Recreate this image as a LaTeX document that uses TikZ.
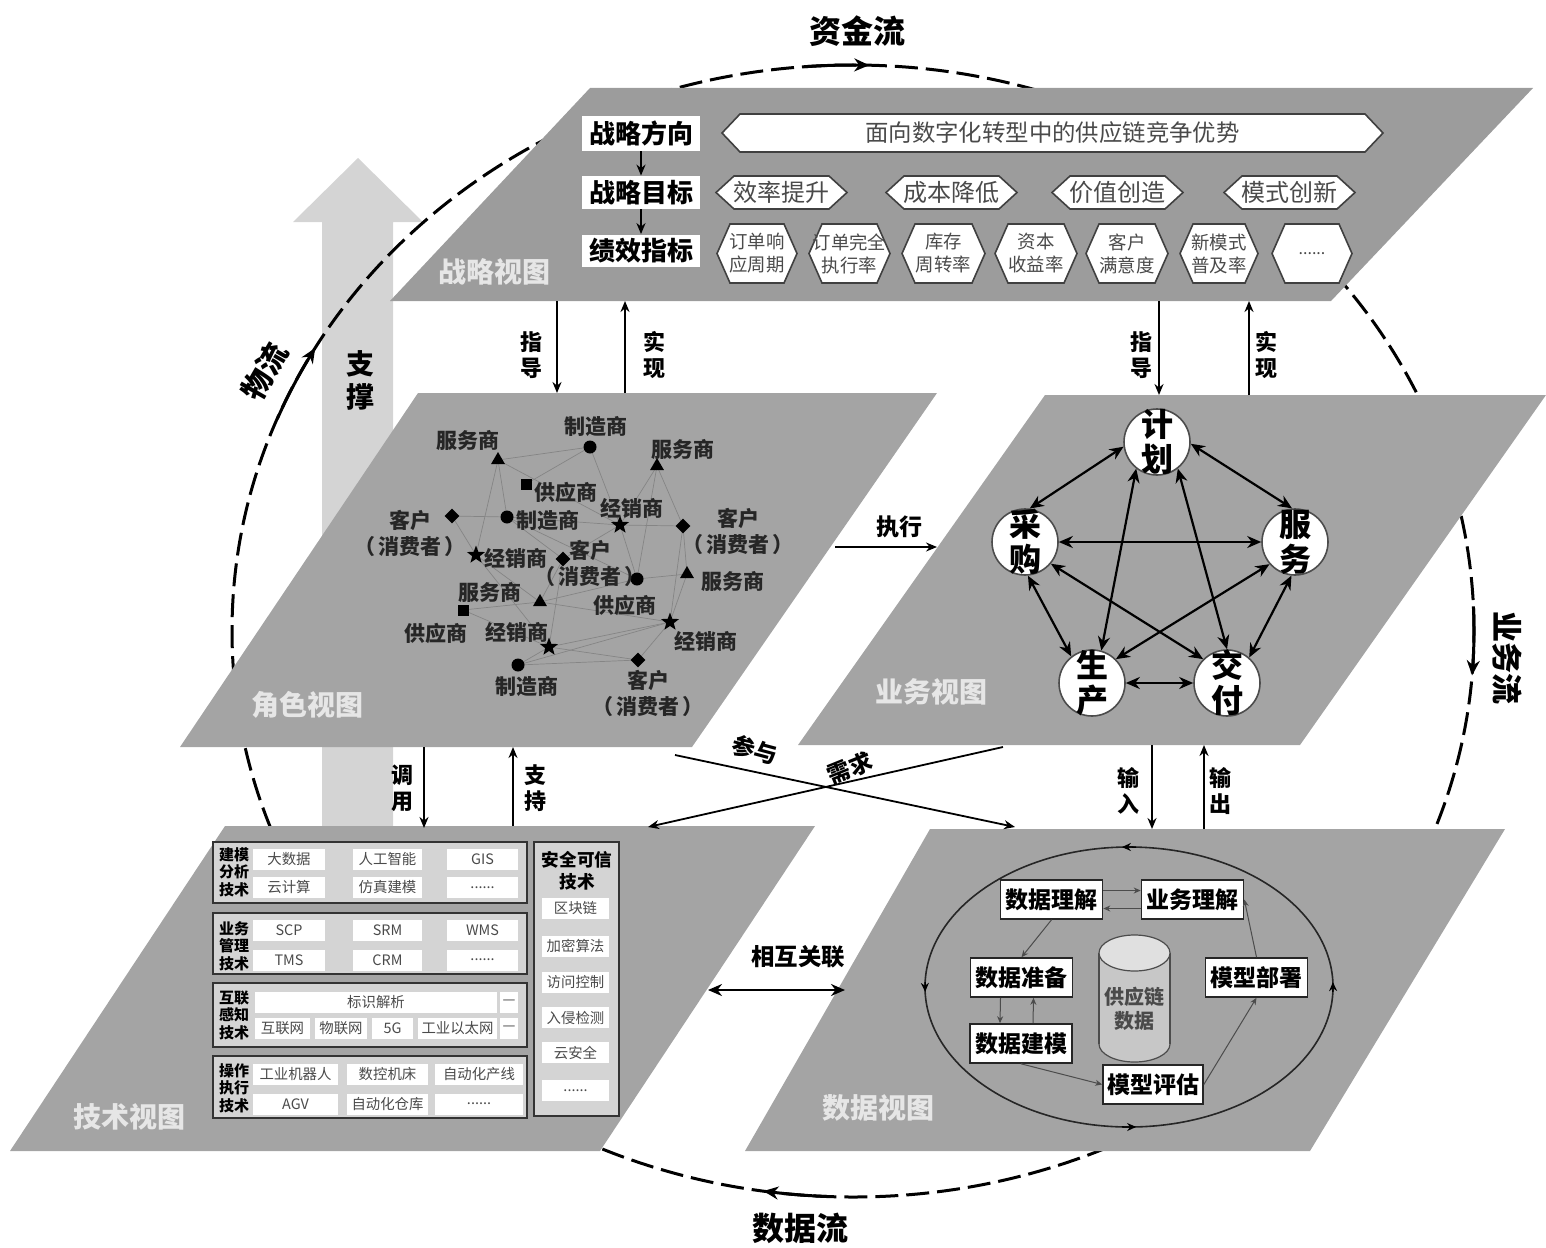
\documentclass[tikz,border=0pt]{standalone}
\usepackage{fontspec}
\setmainfont{Noto Sans CJK SC}
\usetikzlibrary{arrows.meta,shapes.geometric,calc}
\definecolor{planeA}{HTML}{9C9C9C}
\definecolor{planeB}{HTML}{A4A4A4}
\definecolor{blockg}{HTML}{D4D4D4}
\definecolor{txtg}{HTML}{4A4A4A}
\definecolor{viewt}{HTML}{E6E6E6}
\newcommand{\moredots}{{.}{.}{.}{.}{.}{.}}
\tikzset{
  bf/.style 2 args={font=\bfseries\fontsize{#1}{#2}\selectfont,align=center,inner sep=0pt},
  rg/.style 2 args={font=\fontsize{#1}{#2}\selectfont,align=center,inner sep=0pt},
  planeshape/.style={fill=#1,draw=none},
  viewlabel/.style={bf={14}{16},text=viewt},
  flowdash/.style={line width=1.5pt,dash pattern=on 11.5pt off 4pt},
  flowarrow/.style={line width=1.5pt,-{Stealth[length=7.5pt,width=6.5pt]}},
  conn/.style={line width=0.9pt,-{Stealth[length=5.5pt,width=4.5pt]}},
  biconn/.style={line width=1.1pt,{Stealth[length=7pt,width=6pt]}-{Stealth[length=7pt,width=6pt]}},
  sideword/.style={bf={11}{13}},
  hexline/.style={draw=black!75,fill=white,line width=0.8pt},
  sideband/.style={fill=white,minimum width=59pt,inner sep=0pt},
  rolelink/.style={draw=black!48,line width=0.35pt},
  rolesym/.style={fill=black,inner sep=0pt,draw=none},
  roletext/.style={bf={10.5}{13},text=black!85},
  bizcircle/.style={circle,draw=black!70,fill=white,line width=0.8pt,minimum size=33pt,inner sep=0pt},
  biztext/.style={bf={16}{17.5}},
  tblock/.style={draw=black!80,fill=blockg,line width=1.2pt},
  wbox/.style={fill=white,rg={7.2}{8},text=txtg,minimum height=10.5pt},
  dbox/.style={draw=black!85,fill=white,line width=0.8pt,minimum width=51pt,minimum height=19.5pt,bf={11.5}{13}},
  thin link/.style={line width=0.5pt,draw=black!70,-{Stealth[length=3.5pt,width=3pt]}},
  ringmark/.style={line width=0.7pt,-{Stealth[length=4.5pt,width=4pt]}},
}
% name x1 x2 y1 y2 tip text fontstyle
\newcommand{\hexa}[8]{%
  \draw[hexline] (#2,{(#4+#5)/2}) -- ({#2+#6},#4) -- ({#3-#6},#4) -- (#3,{(#4+#5)/2}) -- ({#3-#6},#5) -- ({#2+#6},#5) -- cycle;
  \node[rg=#8,text=txtg] (#1) at ({(#2+#3)/2},{(#4+#5)/2}) {#7};
}
\begin{document}
\begin{tikzpicture}[x=0.5pt,y=-0.5pt]
\useasboundingbox (0,0) rectangle (1546,1247);

% large support arrow behind everything
\fill[fill=black!17] (358,158) -- (423,222) -- (393,222) -- (393,826) -- (322,826) -- (322,222) -- (293,222) -- cycle;
\node[bf={14}{16.5}] (support) at (360,380) {支\\撑};

% dashed ring with the four flows
\draw[flowdash] (853,631) ellipse [x radius=310.5pt,y radius=283pt];
\draw[flowarrow] plot[smooth,domain=202:210,samples=8] ({853+621*cos(\x)},{631+566*sin(\x)});
\draw[flowarrow] plot[smooth,domain=-2.5:4.5,samples=8] ({853+621*cos(\x)},{631+566*sin(\x)});
\draw[flowarrow] plot[smooth,domain=265.5:271.5,samples=8] ({853+621*cos(\x)},{631+566*sin(\x)});
\draw[flowarrow] plot[smooth,domain=92.4:98.3,samples=8] ({853+621*cos(\x)},{631+566*sin(\x)});
\node[bf={16}{18}] (zj) at (857,31) {资金流};
\node[bf={16}{18}] (sj) at (800,1228) {数据流};
\node[bf={15}{17},rotate=60] (wl) at (265,372) {物流};
\node[bf={15.5}{17},rotate=-90] (yw) at (1507,658) {业务流};

% the five planes
\fill[planeshape=planeA] (590,88) -- (1533,88) -- (1331,301) -- (390,301) -- cycle;
\fill[planeshape=planeB] (418,393) -- (937,393) -- (692,747) -- (180,747) -- cycle;
\fill[planeshape=planeB] (1045,395) -- (1546,395) -- (1300,745) -- (798,745) -- cycle;
\fill[planeshape=planeB] (225,826) -- (815,826) -- (600,1151) -- (10,1151) -- cycle;
\fill[planeshape=planeB] (930,829) -- (1505,829) -- (1310,1151) -- (745,1151) -- cycle;
\node[viewlabel] (v1) at (494,272) {战略视图};
\node[viewlabel] (v2) at (307,705) {角色视图};
\node[viewlabel] (v3) at (931,692) {业务视图};
\node[viewlabel] (v4) at (129,1117) {技术视图};
\node[viewlabel] (v5) at (878,1108) {数据视图};

% strategy plane
\node[sideband,minimum height=17.5pt,bf={13}{15}] (s1) at (641,133.5) {战略方向};
\node[sideband,minimum height=16.5pt,bf={13}{15}] (s2) at (641,192.5) {战略目标};
\node[sideband,minimum height=16pt,bf={13}{15}] (s3) at (641,250.5) {绩效指标};
\draw[conn] (s1) -- (s2);
\draw[conn] (s2) -- (s3);
\hexa{dir}{722}{1383}{114}{152}{18}{面向数字化转型中的供应链竞争优势}{{11.7}{14}}
\hexa{g1}{716}{847}{176}{209}{18}{效率提升}{{12}{14}}
\hexa{g2}{886}{1017}{176}{209}{18}{成本降低}{{12}{14}}
\hexa{g3}{1052}{1183}{176}{209}{18}{价值创造}{{12}{14}}
\hexa{g4}{1224}{1355}{176}{209}{18}{模式创新}{{12}{14}}
\hexa{k1}{717}{797}{224}{283}{13}{订单响\\应周期}{{9.2}{11.5}}
\hexa{k2}{809}{890}{224}{283}{13}{订单完全\\执行率}{{9.2}{11.5}}
\hexa{k3}{902}{985}{224}{283}{13}{库存\\周转率}{{9.2}{11.5}}
\hexa{k4}{995}{1077}{224}{283}{13}{资本\\收益率}{{9.2}{11.5}}
\hexa{k5}{1086}{1168}{224}{283}{13}{客户\\满意度}{{9.2}{11.5}}
\hexa{k6}{1180}{1258}{224}{283}{13}{新模式\\普及率}{{9.2}{11.5}}
\hexa{k7}{1272}{1352}{224}{283}{13}{\moredots}{{8}{10}}

% free ends on the plane edges
\coordinate (a1) at (557,301); \coordinate (a2) at (557,393);
\coordinate (b1) at (625,393); \coordinate (b2) at (625,301);
\coordinate (c1) at (1159,301); \coordinate (c2) at (1159,395);
\coordinate (d1) at (1249,395); \coordinate (d2) at (1249,301);
\coordinate (e1) at (835,547); \coordinate (e2) at (937,547);
\coordinate (f1) at (424,747); \coordinate (f2) at (424,828);
\coordinate (g1a) at (513,826); \coordinate (g2a) at (513,747);
\coordinate (h1) at (1152,745); \coordinate (h2) at (1152,829);
\coordinate (i1) at (1204,829); \coordinate (i2) at (1204,745);
\coordinate (j1) at (675,755); \coordinate (j2) at (1015,827);
\coordinate (l1) at (1003,747); \coordinate (l2) at (648,827);
\coordinate (m1) at (708,990); \coordinate (m2) at (845,990);

% role plane
\foreach \n/\x/\y in {A/498/460,B/590/447,C/657/466,D/526/484,E/507/517,F/452/516,G/476/555,H/620/525,I/683/526,J/563/559,K/637/579,L/687/574,M/540/602,N/463/610,O/670/622,P/549/647,Q/518/665,R/638/660}{
  \coordinate (r\n) at (\x,\y);
}
\foreach \a/\b in {A/B,A/E,A/G,A/H,B/D,B/H,C/H,C/I,C/K,F/E,F/G,E/H,E/K,G/M,G/P,H/I,H/J,H/K,I/L,I/O,K/L,J/M,M/K,M/O,N/M,N/P,P/Q,Q/R,Q/O,P/R,O/R,P/O,L/O,J/P,E/J}{
  \draw[rolelink] (r\a) -- (r\b);
}
\foreach \n in {B,E,K,Q}{ \node[rolesym,circle,minimum size=6.5pt] (m\n) at (r\n) {}; }
\foreach \n in {A,C,L,M}{ \node[rolesym,regular polygon,regular polygon sides=3,minimum size=8pt] (m\n) at (r\n) {}; }
\foreach \n in {D,N}{ \node[rolesym,rectangle,minimum size=5.5pt] (m\n) at (r\n) {}; }
\foreach \n in {F,I,J,R}{ \node[rolesym,diamond,minimum size=7.5pt] (m\n) at (r\n) {}; }
\foreach \n in {G,H,O,P}{ \node[rolesym,star,star points=5,star point ratio=2.4,minimum size=9.5pt] (m\n) at (r\n) {}; }
\foreach \k/\x/\y/\t in {1/468/440/服务商,2/596/426/制造商,3/683/449/服务商,4/566/492/供应商,5/548/520/制造商,6/410/533/{客户\\（\kern1.5pt消费者\kern1.5pt）},7/516/558/经销商,8/632/508/经销商,9/738/531/{客户\\（\kern1.5pt消费者\kern1.5pt）},10/590/563/{客户\\（\kern1.5pt消费者\kern1.5pt）},11/733/581/服务商,12/490/592/服务商,13/436/633/供应商,14/625/605/供应商,15/706/641/经销商,16/517/632/经销商,17/527/686/制造商,18/648/693/{客户\\（\kern1.5pt消费者\kern1.5pt）}}{
  \node[roletext] (rt\k) at (\x,\y) {\t};
}

% business plane
\node[bizcircle] (jh) at (1157,442) {};
\node[bizcircle] (fw) at (1295,542) {};
\node[bizcircle] (jf) at (1227,683) {};
\node[bizcircle] (sc) at (1092,683) {};
\node[bizcircle] (cg) at (1025,542) {};
\node[biztext] (jht) at (jh) {计\\划};
\node[biztext] (fwt) at (fw) {服\\务};
\node[biztext] (jft) at (jf) {交\\付};
\node[biztext] (sct) at (sc) {生\\产};
\node[biztext] (cgt) at (cg) {采\\购};
\draw[biconn] (jh.-3) -- (fw.95);
\draw[biconn] (jh.188) -- (cg.82);
\draw[biconn] (jh.232) -- (sc.74);
\draw[biconn] (jh.308) -- (jf.90);
\draw[biconn] (cg.0) -- (fw.180);
\draw[biconn] (cg.275) -- (sc.128);
\draw[biconn] (cg.320) -- (jf.135);
\draw[biconn] (fw.264) -- (jf.49);
\draw[biconn] (fw.221) -- (sc.45);
\draw[biconn] (sc.0) -- (jf.180);

% technology plane
\node[tblock,minimum width=157pt,minimum height=30.5pt,inner sep=0pt] (tb1) at (370,872.5) {};
\node[tblock,minimum width=157pt,minimum height=30.5pt,inner sep=0pt] (tb2) at (370,943.5) {};
\node[tblock,minimum width=157pt,minimum height=32pt,inner sep=0pt] (tb3) at (370,1015) {};
\node[tblock,minimum width=157pt,minimum height=31pt,inner sep=0pt] (tb4) at (370,1087) {};
\node[tblock,minimum width=42.5pt,minimum height=137pt,inner sep=0pt] (tb5) at (576.5,979) {};
\node[bf={7.5}{8.75}] (tl1) at (234,872) {建模\\分析\\技术};
\node[bf={7.5}{8.75}] (tl2) at (234,946) {业务\\管理\\技术};
\node[bf={7.5}{8.75}] (tl3) at (234,1015) {互联\\感知\\技术};
\node[bf={7.5}{8.75}] (tl4) at (234,1088) {操作\\执行\\技术};
\node[bf={8.8}{11}] (tl5) at (577,871) {安全可信\\技术};
\foreach \k/\cx/\cy/\bw/\t in {a1/289/859/72/大数据,a2/387.5/859/69/人工智能,a3/482.5/859/71/GIS,a4/289/887.5/72/云计算,a5/387.5/887.5/69/仿真建模,a6/482.5/887.5/71/\moredots,
  b1/289/930.5/72/SCP,b2/387.5/930.5/69/SRM,b3/482.5/930.5/71/WMS,b4/289/960/72/TMS,b5/387.5/960/69/CRM,b6/482.5/960/71/\moredots,
  c1/376/1002/242/标识解析,c2/282.5/1028/55/互联网,c3/341/1028/52/物联网,c4/392.5/1028/41/5G,c5/457.5/1028/79/工业以太网,c6/509/1002/18/—,c7/509/1028/18/—,
  d1/295.5/1074/85/工业机器人,d2/387.5/1074/81/数控机床,d3/479/1074/88/自动化产线,d4/295.5/1104/85/AGV,d5/387.5/1104/81/自动化仓库,d6/479/1104/88/\moredots,
  e1/575.5/908.5/67/区块链,e2/575.5/946/67/加密算法,e3/575.5/982/67/访问控制,e4/575.5/1017.5/67/入侵检测,e5/575.5/1052.5/67/云安全,e6/575.5/1090.5/67/\moredots}{
  \node[wbox,minimum width=\bw*0.5pt] (t\k) at (\cx,\cy) {\t};
}

% data plane
\node[ellipse,draw=black!85,line width=0.8pt,minimum width=204pt,minimum height=140pt,inner sep=0pt] (ring) at (1129,987) {};
\draw[ringmark] plot[domain=272:268,samples=3] ({1129+204*cos(\x)},{987+140*sin(\x)});
\draw[ringmark] plot[domain=182:178,samples=3] ({1129+204*cos(\x)},{987+140*sin(\x)});
\draw[ringmark] plot[domain=92:88,samples=3] ({1129+204*cos(\x)},{987+140*sin(\x)});
\draw[ringmark] plot[domain=2:-2,samples=3] ({1129+204*cos(\x)},{987+140*sin(\x)});
\node[ellipse,draw=black!70,fill=black!22,line width=0.6pt,minimum width=35.5pt,minimum height=18pt,inner sep=0pt] (cylb) at (1134.5,1044) {};
\fill[black!22] (1099,953) rectangle (1170,1044);
\draw[black!70,line width=0.6pt] (1099,953) -- (1099,1044) (1170,953) -- (1170,1044);
\node[ellipse,draw=black!70,fill=black!12,line width=0.6pt,minimum width=35.5pt,minimum height=18pt,inner sep=0pt] (cylt) at (1134.5,953) {};
\node[rg={10}{12},text=txtg,font=\bfseries\fontsize{10}{12}\selectfont] (cylk) at (1134.5,1009) {供应链\\数据};
\node[dbox] (d1b) at (1051.5,899.5) {数据理解};
\node[dbox] (d2b) at (1192.5,899.5) {业务理解};
\node[dbox] (d3b) at (1021.5,977.5) {数据准备};
\node[dbox] (d4b) at (1256.5,977.5) {模型部署};
\node[dbox] (d5b) at (1021,1043.5) {数据建模};
\node[dbox,minimum width=50pt] (d6b) at (1153,1084.5) {模型评估};
\draw[thin link] ([yshift=4.5pt]d1b.east) -- ([yshift=4.5pt]d2b.west);
\draw[thin link] ([yshift=-4.5pt]d2b.west) -- ([yshift=-4.5pt]d1b.east);
\draw[thin link] (d1b.south) -- (d3b.north);
\draw[thin link] ([xshift=-10.5pt]d3b.south) -- ([xshift=-10.5pt]d5b.north);
\draw[thin link] ([xshift=6pt]d5b.north) -- ([xshift=6pt]d3b.south);
\draw[thin link] (d5b.south) -- (d6b.west);
\draw[thin link] (d6b.east) -- (d4b.south);
\draw[thin link] (d4b.north) -- (d2b.east);

% connectors between the planes
\draw[conn] (a1) -- (a2);
\draw[conn] (b1) -- (b2);
\draw[conn] (c1) -- (c2);
\draw[conn] (d1) -- (d2);
\draw[conn] (e1) -- (e2);
\draw[conn] (f1) -- (f2);
\draw[conn] (g1a) -- (g2a);
\draw[conn] (h1) -- (h2);
\draw[conn] (i1) -- (i2);
\draw[conn] (j1) -- (j2);
\draw[conn] (l1) -- (l2);
\draw[biconn] (m1) -- (m2);
\node[sideword] (w1) at (531,355) {指\\导};
\node[sideword] (w2) at (654,355) {实\\现};
\node[sideword] (w3) at (1141,355) {指\\导};
\node[sideword] (w4) at (1266,355) {实\\现};
\node[bf={11.5}{13}] (w5) at (899,527) {执行};
\node[sideword] (w6) at (402,788) {调\\用};
\node[sideword] (w7) at (535,788) {支\\持};
\node[sideword] (w8) at (1128,791) {输\\入};
\node[sideword] (w9) at (1220,791) {输\\出};
\node[bf={11.5}{13},rotate=-15] (w10) at (755,750) {参与};
\node[bf={11.5}{13},rotate=22] (w11) at (850,768) {需求};
\node[bf={11.7}{13}] (w12) at (798,957) {相互关联};
\end{tikzpicture}
\end{document}
